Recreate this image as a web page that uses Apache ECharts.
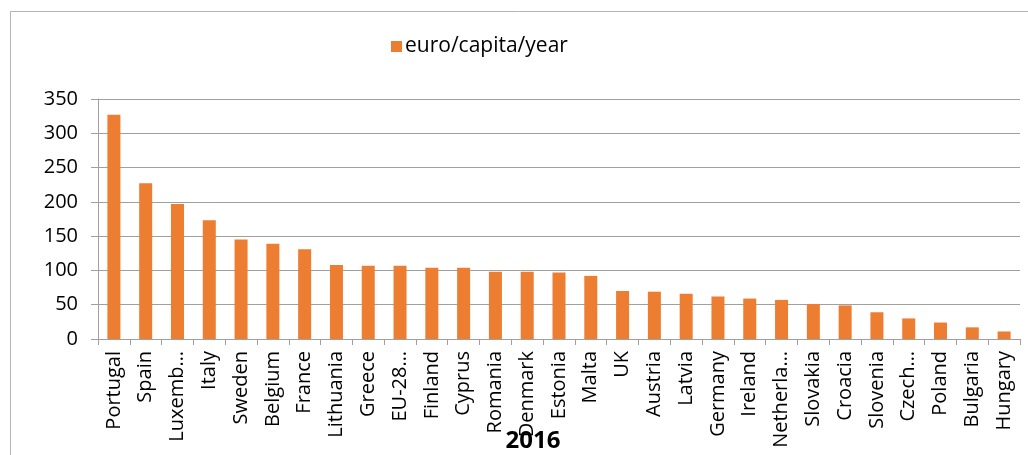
<!DOCTYPE html>
<html lang="en">
<head>
    <meta charset="UTF-8">
    <title>euro/capita/year 2016</title>
    <style>
        html, body { margin: 0; padding: 0; background: #fff; }
        #main { width: 1028px; height: 455px; }
    </style>
</head>
<body>
    <div id="main"></div>
    <script src="https://cdn.jsdelivr.net/npm/echarts@6/dist/echarts.min.js"></script>
    <script>
        // labels as shown on the axis (some are cut off in the original)
        const countries = ['Portugal', 'Spain', 'Luxemb…', 'Italy', 'Sweden', 'Belgium', 'France',
            'Lithuania', 'Greece', 'EU-28…', 'Finland', 'Cyprus', 'Romania', 'Denmark', 'Estonia',
            'Malta', 'UK', 'Austria', 'Latvia', 'Germany', 'Ireland', 'Netherla…', 'Slovakia',
            'Croacia', 'Slovenia', 'Czech…', 'Poland', 'Bulgaria', 'Hungary'];
        const euroPerCapita = [327, 227, 197, 173, 145, 139, 131, 108, 107, 107, 104, 104, 98, 98, 97,
            92, 70, 69, 66, 62, 59, 57, 51, 49, 39, 30, 24, 17, 11];
        const seriesName = 'euro/capita/year';
        const yearLabel = '2016';

        const font = 'Open Sans';
        var myChart = echarts.init(document.getElementById('main'));
        var option = {
            animation: false,
            textStyle: { fontFamily: font },
            graphic: [{
                type: 'rect',
                shape: { x: 10.5, y: 11.5, width: 1100, height: 600 },
                style: { fill: 'none', stroke: '#b4b4b4', lineWidth: 1 },
                silent: true
            }],
            title: {
                text: yearLabel,
                left: 528,
                top: 424,
                textAlign: 'center',
                textStyle: { fontFamily: font, fontSize: 24, fontWeight: 'bold', color: '#000' }
            },
            legend: {
                data: [seriesName],
                left: 386,
                top: 31,
                itemWidth: 11,
                itemHeight: 11,
                icon: 'rect',
                textStyle: { fontFamily: font, fontSize: 21, color: '#000', padding: [0, 0, 0, -2] }
            },
            grid: { left: 98, right: 8, top: 99, bottom: 116 },
            xAxis: {
                type: 'category',
                data: countries,
                axisLine: { lineStyle: { color: '#a0a0a0', width: 1 } },
                axisTick: { show: true, length: 6, lineStyle: { color: '#a0a0a0' } },
                axisLabel: {
                    rotate: 90,
                    interval: 0,
                    margin: 12,
                    fontFamily: font,
                    fontSize: 20,
                    color: '#000'
                }
            },
            yAxis: {
                type: 'value',
                min: 0,
                max: 350,
                interval: 50,
                axisLine: { show: true, lineStyle: { color: '#a0a0a0', width: 1 } },
                axisTick: { show: true, length: 7, lineStyle: { color: '#a0a0a0' } },
                splitLine: { lineStyle: { color: '#a0a0a0', width: 1 } },
                axisLabel: {
                    margin: 20,
                    fontFamily: font,
                    fontSize: 20,
                    color: '#000'
                }
            },
            series: [{
                name: seriesName,
                type: 'bar',
                data: euroPerCapita,
                barWidth: 13,
                itemStyle: { color: '#ED7D31' }
            }]
        };
        option && myChart.setOption(option);
    </script>
</body>
</html>
